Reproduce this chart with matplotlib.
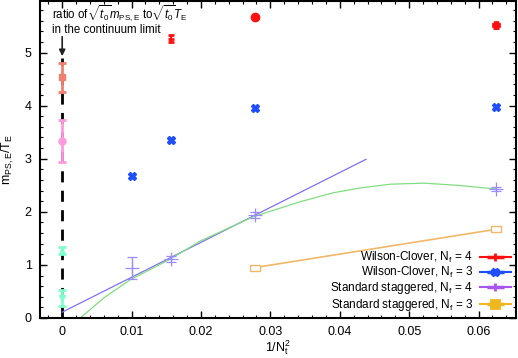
import matplotlib
matplotlib.use('Agg')
import matplotlib.pyplot as plt
from matplotlib.legend_handler import HandlerErrorbar
from matplotlib.ticker import MultipleLocator

plt.rcParams['font.family'] = ['Liberation Sans', 'DejaVu Sans']
plt.rcParams['mathtext.fontset'] = 'custom'
plt.rcParams['mathtext.rm'] = 'Liberation Sans'
plt.rcParams['mathtext.it'] = 'Liberation Sans:italic'
plt.rcParams['mathtext.bf'] = 'Liberation Sans:bold'

# Wilson-Clover, Nf = 4
wc4_x = [1/64, 1/36, 1/16]
wc4_y = [5.26, 5.66, 5.51]
wc4_err = [0.07, 0.03, 0.04]
wc4_mk = ['_', 'o', 'P']

# Wilson-Clover, Nf = 3
wc3_x = [1/100, 1/64, 1/36, 1/16]
wc3_y = [2.68, 3.35, 3.96, 3.98]

# standard staggered, Nf = 4
st4_x = [1/100, 1/64, 1/36, 1/16]
st4_y = [0.94, 1.11, 1.94, 2.43]
st4_err = [0.21, 0.05, 0.06, 0.03]

# standard staggered, Nf = 3
st3_x = [1/36, 1/16]
st3_y = [0.95, 1.67]
st3_err = [0.02, 0.02]

# linear fit (end points) and curved fit
lin_x = [0.0, 0.0438]
lin_y = [0.11, 2.99]
fit_x = [0.0026, 0.0060, 0.0098, 0.0153, 0.0199, 0.0276, 0.0343, 0.0391,
         0.0430, 0.0473, 0.0521, 0.0569, 0.0625]
fit_y = [0.0, 0.38, 0.72, 1.09, 1.45, 1.91, 2.19, 2.36, 2.45, 2.52, 2.54,
         2.50, 2.43]

# continuum limits at 1/Nt^2 = 0
cont_y = [4.53, 3.33, 1.27, 0.38]
cont_err = [0.27, 0.39, 0.07, 0.15]
cont_col = ['#f08070', '#ff99dd', '#80ffcc', '#80ffcc']
cont_mk = ['s', 'o', '^', 'v']

fig = plt.figure(figsize=(5.18, 3.58), dpi=100)
ax = fig.add_axes([40/518, 40/358, 476/518, 317.5/358])

# dashed guide + arrow
ax.plot([0, 0], [0, 4.9], color='black', lw=2, dashes=(4, 3), zorder=1)
ax.annotate('', xy=(0, 4.88), xytext=(0, 5.35),
            arrowprops=dict(arrowstyle='-|>', color='#222222', lw=1.2,
                            mutation_scale=9))
ax.text(-0.0015, 5.73, r'ratio of$\sqrt{t_0}m_{\mathrm{PS,E}}$ to$\sqrt{t_0}T_{\mathrm{E}}$',
        fontsize=8.3, va='center', ha='left')
ax.text(-0.0015, 5.43, 'in the continuum limit', fontsize=8.3, va='center', ha='left')

for y, e, c, m in zip(cont_y, cont_err, cont_col, cont_mk):
    ax.errorbar([0], [y], yerr=[e], color=c, marker=m, ms=5, capsize=3,
                elinewidth=2, capthick=2, zorder=3)

# fits
ax.plot(lin_x, lin_y, color='#8070f0', lw=0.9, zorder=2)
ax.plot(fit_x, fit_y, color='#80dd80', lw=0.9, zorder=2)

# data
for x, y, e, m in zip(wc4_x, wc4_y, wc4_err, wc4_mk):
    ax.errorbar([x], [y], yerr=[e], color='#ff1010', marker=m, ms=5,
                mew=2, capsize=2.5, elinewidth=1.5, capthick=1.5, zorder=4)
ax.plot(wc3_x, wc3_y, ls='none', marker='X', ms=6, color='#1f4fff',
        mec='#1f4fff', zorder=4)
ax.errorbar(st4_x, st4_y, yerr=st4_err, ls='none', marker='+', ms=10,
            color='#9a8cff', mew=0.9, elinewidth=0.9, capsize=3.5, zorder=4)
box = [[-1, -0.55], [1, -0.55], [1, 0.55], [-1, 0.55], [-1, -0.55]]
ax.plot(st3_x, st3_y, color='#f0b868', lw=1.2, zorder=2)
ax.errorbar(st3_x, st3_y, yerr=st3_err, ls='none', marker=box, ms=7.5,
            mfc='white', mec='#f0b868', color='#e8a040', mew=1.0,
            elinewidth=1, capsize=0, zorder=4)

# legend entries
leg_specs = [
    ('Wilson-Clover, N$_\\mathrm{f}$ = 4', '#ff1010', '|', 6),
    ('Wilson-Clover, N$_\\mathrm{f}$ = 3', '#1f4fff', 'X', 5),
    ('Standard staggered, N$_\\mathrm{f}$ = 4', '#a855f0', '|', 6),
    ('Standard staggered, N$_\\mathrm{f}$ = 3', '#f0b820', 's', 6),
]
handles = []
for lab, c, m, s in leg_specs:
    h = ax.errorbar([], [], xerr=[], color=c, marker=m, ms=s, mew=2,
                    elinewidth=2.5, capsize=3.5, capthick=2, label=lab)
    handles.append(h)
ax.legend(handles=handles, loc='lower right', frameon=False, fontsize=8.5,
          markerfirst=False, handlelength=2.6, handletextpad=0.6,
          labelspacing=0.02, borderaxespad=0.05,
          handler_map={type(handles[0]): HandlerErrorbar(xerr_size=0.7)})

ax.set_xlim(-0.0032, 0.0654)
ax.set_ylim(0, 5.98)
ax.xaxis.set_major_locator(MultipleLocator(0.01))
ax.xaxis.set_minor_locator(MultipleLocator(0.002))
ax.yaxis.set_major_locator(MultipleLocator(1))
ax.yaxis.set_minor_locator(MultipleLocator(0.2))
ax.set_xticks([0, 0.01, 0.02, 0.03, 0.04, 0.05, 0.06])
ax.set_xticklabels(['0', '0.01', '0.02', '0.03', '0.04', '0.05', '0.06'])
ax.tick_params(which='both', direction='in', top=True, right=True,
               labelsize=9, pad=6)
ax.tick_params(which='major', length=5, width=1)
ax.tick_params(which='minor', length=2.5, width=0.8)
for s in ax.spines.values():
    s.set_linewidth(1.5)

ax.set_xlabel(r'1/N$_\mathrm{t}^2$', fontsize=9, labelpad=0)
ax.set_ylabel(r'm$_\mathrm{PS,E}$/T$_\mathrm{E}$', fontsize=9, labelpad=6)

fig.savefig('out.png', dpi=100)
